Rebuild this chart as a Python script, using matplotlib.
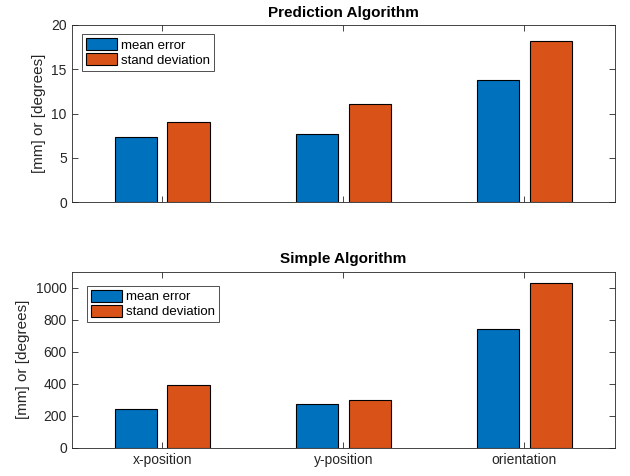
import matplotlib
matplotlib.use("Agg")
import matplotlib.pyplot as plt
import numpy as np

plt.rcParams["font.family"] = ["Liberation Sans", "DejaVu Sans"]

categories = ["x-position", "y-position", "orientation"]
series_names = ["mean error", "stand deviation"]
pred_mean = [7.35, 7.7, 13.8]
pred_std = [9.05, 11.05, 18.25]
simple_mean = [241, 273, 740]
simple_std = [390, 301, 1030]

BLUE = "#0072BD"
ORANGE = "#D95319"
AXC = "#262626"

fig = plt.figure(figsize=(6.3, 4.76), dpi=100)
ax_top = fig.add_axes([0.1138, 0.575, 0.8624, 0.3725])
ax_bot = fig.add_axes([0.1138, 0.0595, 0.8624, 0.3697])

x = np.arange(1, len(categories) + 1)
width = 0.232
off = 0.145


def draw(ax, vals, title, ylim, yticks, show_xlabels, leg_anchor):
    ax.bar(x - off, vals[0], width, color=BLUE, edgecolor="black",
           linewidth=0.8, label=series_names[0])
    ax.bar(x + off, vals[1], width, color=ORANGE, edgecolor="black",
           linewidth=0.8, label=series_names[1])
    ax.set_xlim(0.5, 3.5)
    ax.set_ylim(*ylim)
    ax.set_yticks(yticks)
    ax.set_xticks(x)
    ax.set_xticklabels(categories if show_xlabels else [])
    ax.tick_params(direction="in", top=True, right=True, length=4,
                   width=0.6, colors=AXC, labelsize=10)
    for s in ax.spines.values():
        s.set_color(AXC)
        s.set_linewidth(0.6)
    ax.set_ylabel("[mm] or [degrees]", fontsize=11, color=AXC)
    ax.set_title(title, fontsize=11, fontweight="bold", color="black", pad=6)
    leg = ax.legend(loc="upper left", bbox_to_anchor=leg_anchor,
                    fontsize=9.5, frameon=True, fancybox=False,
                    handlelength=2.4, handleheight=1.0, handletextpad=0.25,
                    borderpad=0.3, labelspacing=0.12, borderaxespad=0)
    leg.get_frame().set_edgecolor("black")
    leg.get_frame().set_linewidth(0.6)


draw(ax_top, (pred_mean, pred_std), "Prediction Algorithm", (0, 20),
     [0, 5, 10, 15, 20], False, (0.0184, 0.9475))
draw(ax_bot, (simple_mean, simple_std), "Simple Algorithm", (0, 1100),
     [0, 200, 400, 600, 800, 1000], True, (0.0276, 0.919))

fig.savefig("out.png", dpi=100, facecolor="white")
